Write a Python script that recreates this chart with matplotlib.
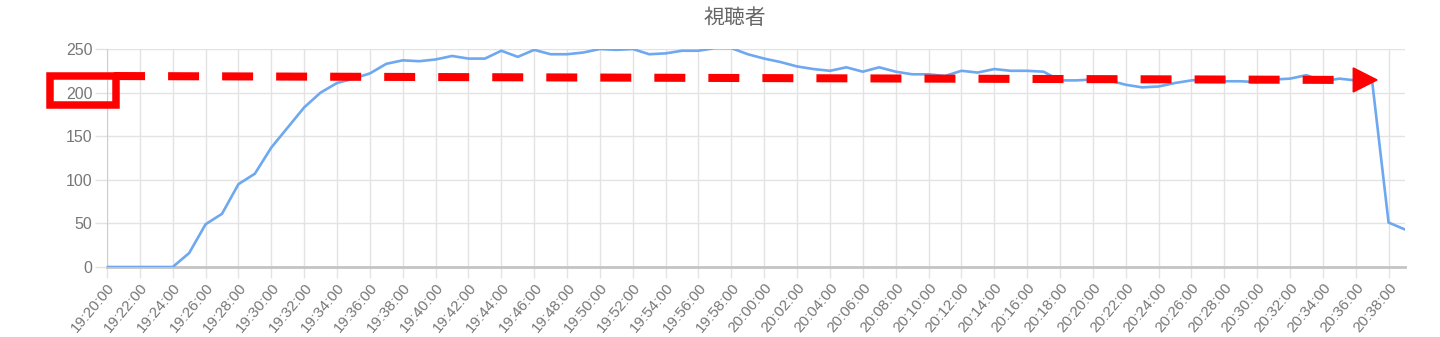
import matplotlib
matplotlib.use("Agg")
import matplotlib.pyplot as plt
from matplotlib.patches import Rectangle, Polygon

plt.rcParams["font.family"] = ["Liberation Sans", "Noto Sans CJK JP", "DejaVu Sans"]
plt.rcParams["lines.scale_dashes"] = False

# one sample per minute, 19:20 .. 20:39
start_hour, start_min = 19, 20
viewers = [
    0, 0, 0, 0, 0, 16, 49, 61, 95, 107,
    137, 160, 183, 200, 211, 216, 222, 233, 237, 236,
    238, 242, 239, 239, 248, 241, 249, 244, 244, 246,
    250, 249, 250, 244, 245, 248, 248, 251, 251, 244,
    239, 235, 230, 227, 225, 229, 224, 229, 224, 221,
    221, 219, 225, 223, 227, 225, 225, 224, 214, 214,
    215, 214, 209, 206, 207, 211, 214, 215, 213, 213,
    212, 215, 216, 220, 213, 216, 214, 213, 51, 43,
]
minutes = list(range(len(viewers)))
tick_minutes = minutes[::2]
tick_labels = []
for m in tick_minutes:
    t = start_hour * 60 + start_min + m
    tick_labels.append(f"{t // 60:02d}:{t % 60:02d}:00")
y_ticks = [0, 50, 100, 150, 200, 250]

# red annotation: dashed arrow at the ~215 level, box around the "200" label
arrow_x0, arrow_y0 = 0.43, 219
arrow_x1, arrow_y1 = 77.3, 214.5
head_len, head_half = 1.45, 13.8

W, H = 1440, 337
fig = plt.figure(figsize=(W / 100, H / 100), dpi=100)
ax = fig.add_axes([107 / W, (H - 267) / H, (1405 - 107) / W, 218 / H])

grid_c = "#e3e3e3"
label_c = "#777777"
ax.plot(minutes, viewers, color="#6EA8F0", lw=1.9, zorder=3, solid_joinstyle="round")

ax.set_xlim(0, minutes[-1])
ax.set_ylim(0, 250)
ax.set_xticks(tick_minutes)
ax.set_xticklabels(tick_labels, rotation=50, ha="right", rotation_mode="anchor")
ax.set_yticks(y_ticks)
ax.grid(True, color=grid_c, lw=1)
ax.tick_params(axis="both", colors=grid_c, labelcolor=label_c, width=1)
ax.tick_params(axis="x", labelsize=11, length=8, pad=2)
ax.tick_params(axis="y", labelsize=11.5, length=9, pad=1.5)
for s in ["top", "right"]:
    ax.spines[s].set_visible(False)
ax.spines["left"].set_color("#cfcfcf")
ax.spines["bottom"].set_color("#c4c4c4")
ax.spines["bottom"].set_linewidth(2)
ax.set_axisbelow(True)

fig.text(735 / W, 1 - 18 / H, "視聴者", ha="center", va="center", fontsize=15,
         color="#666666", family=["Noto Sans CJK JP", "DejaVu Sans"])

# dashed red arrow
ax.plot([arrow_x0, arrow_x1 - head_len], [arrow_y0, arrow_y1], color="red", lw=5.8,
        dashes=(22.3, 16.6), solid_capstyle="butt", dash_capstyle="butt", zorder=4, clip_on=False)
ax.add_patch(Polygon([[arrow_x1 - head_len, arrow_y1 + head_half],
                      [arrow_x1, arrow_y1],
                      [arrow_x1 - head_len, arrow_y1 - head_half]],
                     closed=True, color="red", zorder=5, clip_on=False))

# red box around the 200 tick label
fig.patches.append(Rectangle((49.5 / W, 1 - 104.5 / H), 66 / W, 28.5 / H,
                             transform=fig.transFigure, fill=False, ec="red", lw=5.4, zorder=6))

fig.savefig("out.png", dpi=100)
